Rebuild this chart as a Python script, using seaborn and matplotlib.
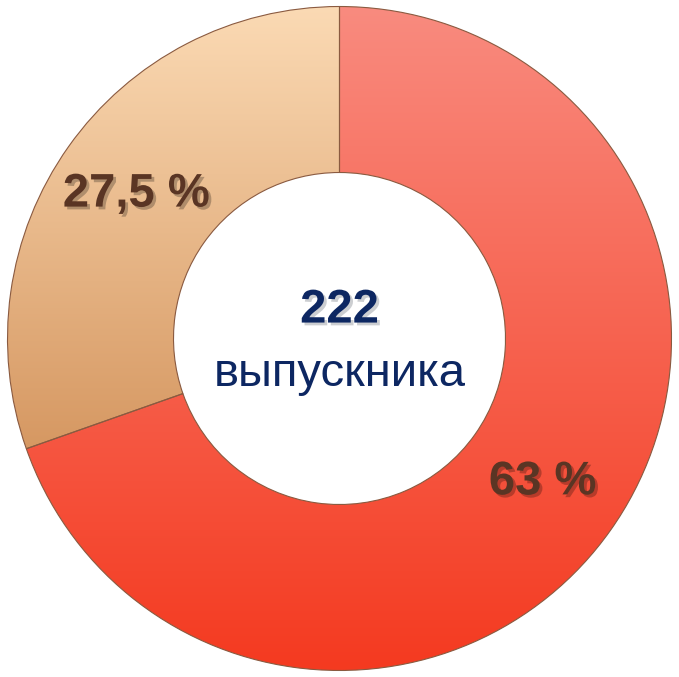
import matplotlib
matplotlib.use('Agg')
import matplotlib.pyplot as plt
import matplotlib.patheffects as pe
from matplotlib.colors import LinearSegmentedColormap
import numpy as np
import seaborn as sns

# ---------------- data ----------------
shares = [63, 27.5]
share_labels = [f"{v:g} %".replace('.', ',') for v in shares]
grad_top = ['#F98B7F', '#FBDAB4']
grad_bottom = ['#F43A20', '#D69862']
total_count = 222
center_text = 'выпускника'

sns.set_theme(style='white')
plt.rcParams['font.family'] = ['Liberation Sans', 'DejaVu Sans']

fig = plt.figure(figsize=(6.79, 6.77), dpi=100)
ax = fig.add_axes([0, 0, 1, 1])

wedges, texts = ax.pie(shares, labels=share_labels, startangle=90, counterclock=False,
                       radius=1, labeldistance=0.75,
                       wedgeprops=dict(width=0.5, edgecolor='#8a5a40', linewidth=0.8),
                       textprops=dict(fontsize=34, fontweight='bold', color='#5a3524',
                                      ha='center', va='center'))

# vertical gradient fill clipped to each wedge
for w, c1, c2 in zip(wedges, grad_top, grad_bottom):
    w.set_facecolor('none')
    cmap = LinearSegmentedColormap.from_list('g', [c2, c1])
    grad = np.linspace(0, 1, 256).reshape(-1, 1)
    ext = w.get_path().get_extents()
    im = ax.imshow(grad, cmap=cmap, origin='lower', aspect='auto',
                   extent=(ext.x0, ext.x1, ext.y0, ext.y1), zorder=0.5)
    im.set_clip_path(w)

for t in texts:
    t.set_path_effects([pe.withSimplePatchShadow(offset=(2, -2), shadow_rgbFace='#000000', alpha=0.25)])

ax.text(0, 0.048, str(total_count), ha='center', va='baseline', fontsize=34,
        fontweight='bold', color='#0d2762',
        path_effects=[pe.withSimplePatchShadow(offset=(2, -2), alpha=0.2)])
ax.text(0, -0.142, center_text, ha='center', va='baseline', fontsize=34, color='#0d2762')

ax.set_xlim(-1.0226, 1.0226)
ax.set_ylim(-1.0196, 1.0196)
ax.set_aspect('auto')
ax.axis('off')

fig.savefig('out.png', dpi=100, facecolor='white')
